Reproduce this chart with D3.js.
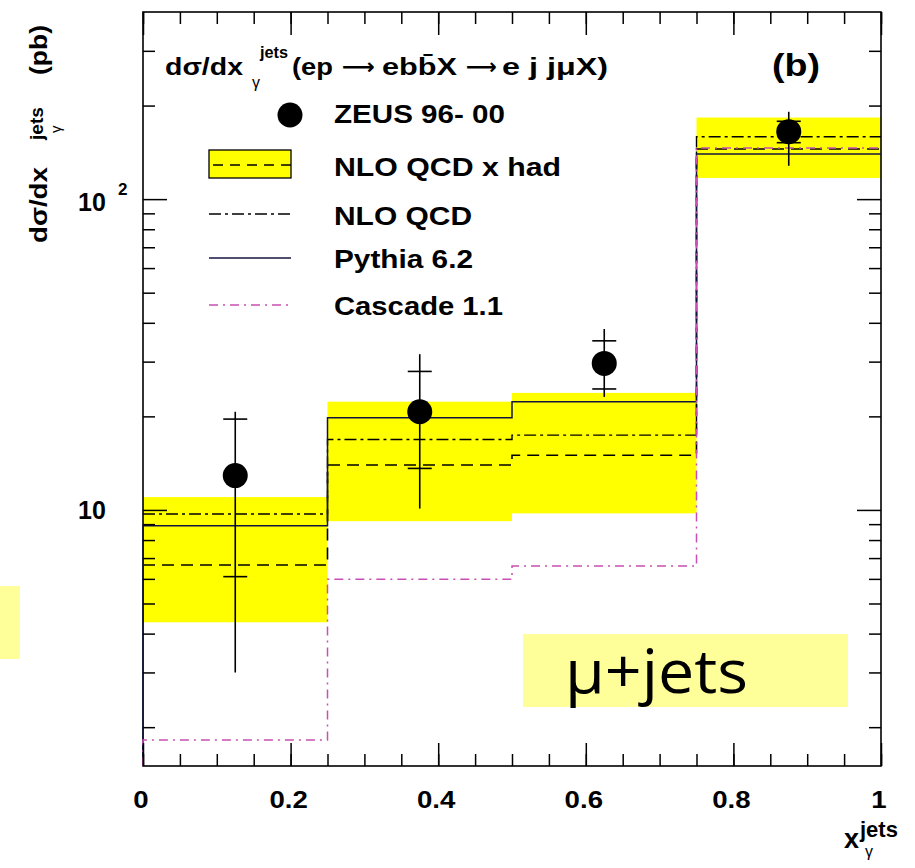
<!DOCTYPE html>
<html><head><meta charset="utf-8">
<script src="https://cdn.jsdelivr.net/npm/d3@7"></script>
<style>
body{margin:0;background:#fff}
svg{display:block}
text{font-family:"Liberation Sans",Arial,Helvetica,sans-serif;font-weight:bold;fill:#000}
text.thin{font-weight:normal}
text.tag{font-family:"Open Sans","Noto Sans",sans-serif;font-weight:normal}
</style>
</head><body>
<svg id="chart" width="915" height="868"></svg>
<script>
// Bin edges and centres in x_gamma^jets
const binEdges = [0, 0.25, 0.5, 0.75, 1];
const binCentres = [0.125, 0.375, 0.625, 0.875];
// ZEUS 96-00 measurement (pb) with inner (stat) and outer (total) errors
const zeusValue  = [12.9, 20.7, 29.6, 164.8];
const zeusStatHi = [19.6, 27.9, 35.0, 178];
const zeusStatLo = [6.1, 13.6, 24.5, 151.9];
const zeusTotHi  = [20.7, 31.7, 38.2, 191];
const zeusTotLo  = [3.0, 10.1, 23.1, 128];
// NLO QCD x hadronisation corrections: central value and uncertainty band
const nloHad   = [6.65, 13.95, 15.0, 145];
const nloHadLo = [4.35, 9.2, 9.75, 117];
const nloHadHi = [11.0, 22.3, 23.8, 183];
// Other predictions
const nloQcd  = [9.7, 16.85, 17.4, 158.8];
const pythia  = [8.9, 19.8, 22.3, 139.7];
const cascade = [1.82, 5.98, 6.6, 146];
// Axis ticks
const xTickValues = [0, 0.2, 0.4, 0.6, 0.8, 1];
const xTickLabels = ["0", "0.2", "0.4", "0.6", "0.8", "1"];
const xMinorTicks = d3.range(0, 1.0001, 0.05);
const yMajorTicks = [10, 100];
const yMinorTicks = [2, 3, 4, 5, 6, 7, 8, 9, 20, 30, 40, 50, 60, 70, 80, 90, 200, 300];
const legendLabels = ["ZEUS 96- 00", "NLO QCD x had", "NLO QCD", "Pythia 6.2", "Cascade 1.1"];

const YELLOW = "#ffff00", PALE = "#ffff99", PYTHIA = "#141440", CASCADE = "#c850b4";
const DASH = "12,7", DASHDOT = "12,4,3,4", CASDASH = "9,5,2,5";

const svg = d3.select("#chart");
const L = 143, R = 881, T = 12, B = 766;
const x = d3.scaleLinear().domain([0, 1]).range([L, R]);
const y = d3.scaleLog().domain([1.5, 400]).range([B, T]);

// pale note box at the left margin
svg.append("rect").attr("x", 0).attr("y", 586).attr("width", 20).attr("height", 73).attr("fill", PALE);

// uncertainty band of NLO QCD x had
svg.append("g").selectAll("rect").data(nloHadHi).join("rect")
  .attr("x", (d, i) => x(binEdges[i]))
  .attr("width", (d, i) => x(binEdges[i + 1]) - x(binEdges[i]))
  .attr("y", d => y(d))
  .attr("height", (d, i) => y(nloHadLo[i]) - y(d))
  .attr("fill", YELLOW);

// frame
svg.append("rect").attr("x", L).attr("y", T).attr("width", R - L).attr("height", B - T)
  .attr("fill", "none").attr("stroke", "#000").attr("stroke-width", 1.6);

// histogram step outline
function stepPath(vals, fromBase) {
  const pts = vals.map((v, i) => [binEdges[i], v]);
  pts.push([binEdges[binEdges.length - 1], vals[vals.length - 1]]);
  if (fromBase) pts.unshift([binEdges[0], y.domain()[0]]);
  return d3.line().x(d => x(d[0])).y(d => y(d[1])).curve(d3.curveStepAfter)(pts);
}
const hists = [
  {vals: nloHad, color: "#000", dash: DASH, base: false, w: 1.6},
  {vals: nloQcd, color: "#000", dash: DASHDOT, base: false, w: 1.4},
  {vals: pythia, color: PYTHIA, dash: null, base: true, w: 1.5},
  {vals: cascade, color: CASCADE, dash: CASDASH, base: true, w: 1.5}
];
hists.forEach(h => {
  svg.append("path").attr("d", stepPath(h.vals, h.base))
    .attr("fill", "none").attr("stroke", h.color).attr("stroke-width", h.w)
    .attr("stroke-dasharray", h.dash);
});

// inward ticks on all four sides
function ticks(axis, tx, ty) {
  const g = svg.append("g").attr("transform", `translate(${tx},${ty})`).call(axis);
  g.select(".domain").remove();
  g.selectAll("line").attr("stroke", "#000").attr("stroke-width", 1.5);
  g.selectAll("text").remove();
}
ticks(d3.axisBottom(x).tickValues(xMinorTicks).tickSize(-12).tickFormat(""), 0, B);
ticks(d3.axisBottom(x).tickValues(xTickValues).tickSize(-23).tickFormat(""), 0, B);
ticks(d3.axisTop(x).tickValues(xMinorTicks).tickSize(-12).tickFormat(""), 0, T);
ticks(d3.axisTop(x).tickValues(xTickValues).tickSize(-23).tickFormat(""), 0, T);
ticks(d3.axisLeft(y).tickValues(yMinorTicks).tickSize(-12).tickFormat(""), L, 0);
ticks(d3.axisLeft(y).tickValues(yMajorTicks).tickSize(-24).tickFormat(""), L, 0);
ticks(d3.axisRight(y).tickValues(yMinorTicks).tickSize(-12).tickFormat(""), R, 0);
ticks(d3.axisRight(y).tickValues(yMajorTicks).tickSize(-24).tickFormat(""), R, 0);

// horizontally stretched label helper
function label(parent, px, py, str, size, anchor, sx) {
  return parent.append("text")
    .attr("transform", `translate(${px},${py}) scale(${sx || 1},1)`)
    .attr("text-anchor", anchor || "start")
    .attr("font-size", size).text(str);
}
function fitted(parent, px, py, str, size, len) {
  return parent.append("text").attr("x", px).attr("y", py).attr("font-size", size)
    .attr("textLength", len).attr("lengthAdjust", "spacingAndGlyphs").text(str);
}

// x tick labels
xTickValues.forEach((v, i) => label(svg, x(v) - 2, 808, xTickLabels[i], 24, "middle", 1.15));
// y tick labels: 10 and 10^2
label(svg, 78, 211, "10", 25, "start", 1.0);
label(svg, 118, 195, "2", 17, "start", 1.0);
label(svg, 78, y(10) + 9, "10", 25, "start", 1.0);

// x axis title
label(svg, 844, 848, "x", 27, "start", 1.0);
label(svg, 860, 837, "jets", 22, "start", 1.0);
svg.append("text").attr("class", "thin").attr("x", 865).attr("y", 857).attr("font-size", 16).text("γ");

// y axis title (rotated)
const yt = svg.append("g").attr("transform", "translate(47,243) rotate(-90)");
fitted(yt, 0, 0, "dσ/dx", 24, 76);
fitted(yt, 103, -4, "jets", 18, 33);
yt.append("text").attr("class", "thin").attr("x", 110).attr("y", 14).attr("font-size", 15).text("γ");
fitted(yt, 168, 0, "(pb)", 24, 50);

// panel title
const tg = svg.append("g");
fitted(tg, 165, 75, "dσ/dx", 24, 78);
fitted(tg, 260, 58, "jets", 16, 28);
tg.append("text").attr("class", "thin").attr("x", 252).attr("y", 88).attr("font-size", 16).text("γ");
fitted(tg, 292, 75, "(ep", 24, 41);
tg.append("text").attr("x", 342).attr("y", 74).attr("font-size", 22).style("font-family", "DejaVu Sans")
  .attr("textLength", 33).attr("lengthAdjust", "spacingAndGlyphs").text("⟶");
fitted(tg, 382, 75, "ebb̄X", 24, 75);
tg.append("text").attr("x", 466).attr("y", 74).attr("font-size", 22).style("font-family", "DejaVu Sans")
  .attr("textLength", 31).attr("lengthAdjust", "spacingAndGlyphs").text("⟶");
fitted(tg, 502, 75, "e j jμX)", 24, 106);
fitted(tg, 772, 76, "(b)", 32, 48);

// legend
const lg = svg.append("g");
const legY = [123, 175.5, 225, 268, 315];
const legLen = [171, 227, 138, 139, 169];
legendLabels.forEach((s, i) => fitted(lg, 334, legY[i], s, 26, legLen[i]));
lg.append("circle").attr("cx", 290).attr("cy", 115).attr("r", 12.5).attr("fill", "#000");
lg.append("rect").attr("x", 209).attr("y", 150).attr("width", 82).attr("height", 28)
  .attr("fill", YELLOW).attr("stroke", "#000").attr("stroke-width", 1.3);
lg.append("line").attr("x1", 213).attr("x2", 291).attr("y1", 165).attr("y2", 165)
  .attr("stroke", "#000").attr("stroke-width", 1.5).attr("stroke-dasharray", "10,7");
lg.append("line").attr("x1", 209).attr("x2", 291).attr("y1", 214).attr("y2", 214)
  .attr("stroke", "#000").attr("stroke-width", 1.3).attr("stroke-dasharray", DASHDOT);
lg.append("line").attr("x1", 209).attr("x2", 291).attr("y1", 258).attr("y2", 258)
  .attr("stroke", PYTHIA).attr("stroke-width", 1.5);
lg.append("line").attr("x1", 209).attr("x2", 291).attr("y1", 305).attr("y2", 305)
  .attr("stroke", CASCADE).attr("stroke-width", 1.5).attr("stroke-dasharray", CASDASH);

// ZEUS points with error bars
const pts = svg.append("g");
binCentres.forEach((c, i) => {
  const cx = x(c);
  pts.append("line").attr("x1", cx).attr("x2", cx).attr("y1", y(zeusTotHi[i])).attr("y2", y(zeusTotLo[i]))
    .attr("stroke", "#000").attr("stroke-width", 1.6);
  [zeusStatHi[i], zeusStatLo[i]].forEach(v => {
    pts.append("line").attr("x1", cx - 12).attr("x2", cx + 12).attr("y1", y(v)).attr("y2", y(v))
      .attr("stroke", "#000").attr("stroke-width", 1.6);
  });
  pts.append("circle").attr("cx", cx).attr("cy", y(zeusValue[i])).attr("r", 12.5).attr("fill", "#000");
});

// channel tag
svg.append("rect").attr("x", 523).attr("y", 634).attr("width", 325).attr("height", 73).attr("fill", PALE);
svg.append("text").attr("class", "tag").attr("x", 565).attr("y", 693).attr("font-size", 60)
  .attr("textLength", 183).attr("lengthAdjust", "spacingAndGlyphs").text("μ+jets");
</script>
</body></html>
